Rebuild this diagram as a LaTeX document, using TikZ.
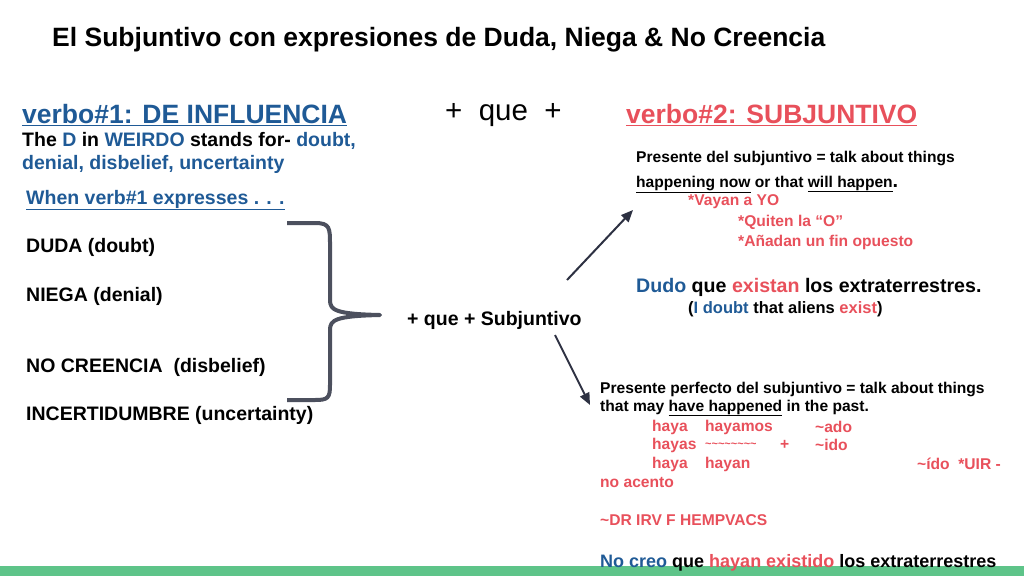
\documentclass[tikz,border=0pt]{standalone}
\usepackage{fontspec}
\setmainfont{Liberation Sans}
\usetikzlibrary{arrows.meta}
\definecolor{bl}{HTML}{1F5A96}
\definecolor{rd}{HTML}{E8505B}
\definecolor{ar}{HTML}{2D3142}
\definecolor{gr}{HTML}{5EC489}
\begin{document}
\begin{tikzpicture}[x=1pt,y=-1pt,
  t/.style={anchor=west,inner sep=0pt,font=\bfseries\fontsize{19.5}{22}\selectfont},
  s/.style={anchor=west,inner sep=0pt,font=\bfseries\fontsize{15.6}{18}\selectfont},
  big/.style={anchor=west,inner sep=0pt,font=\bfseries\fontsize{26.5}{30}\selectfont},
  arr/.style={-{Triangle[length=12pt,width=10pt]},line width=2pt,color=ar}]
\useasboundingbox (0,0) rectangle (1024,576);
\fill[gr] (0,566) rectangle (1024,576);
\node[anchor=west,inner sep=0pt,font=\bfseries\fontsize{26.5}{30}\selectfont] (title) at (52,40) {El Subjuntivo con expresiones de Duda, Niega \& No Creencia};
\node[big,text=bl] (v1) at (22,115) {\underline{verbo\#1: DE INFLUENCIA}};
\node[big,font=\fontsize{29.5}{32}\selectfont] (que) at (445,115) {+\ \ que\ \ +};
\node[big,text=rd] (v2) at (626,115) {\underline{verbo\#2: SUBJUNTIVO}};
\node[t] (w1) at (22,141) {The \textcolor{bl}{D} in \textcolor{bl}{WEIRDO} stands for- \textcolor{bl}{doubt,}};
\node[t,text=bl] (w2) at (22,164) {denial, disbelief, uncertainty};
\node[t,text=bl] (when) at (26,200) {\underline{When verb\#1 expresses . . .}};
\node[t] (duda) at (26,247) {DUDA (doubt)};
\node[t] (niega) at (26,296) {NIEGA (denial)};
\node[t] (noc) at (26,367) {NO CREENCIA\ \ (disbelief)};
\node[t] (inc) at (26,415) {INCERTIDUMBRE (uncertainty)};
\draw[line width=4pt,color=ar!85,line join=round]
  (287,223) -- (315,223) .. controls (330,223) and (330,228) .. (330,245) -- (330,300)
  .. controls (330,310) and (335,314) .. (380,315)
  .. controls (335,316) and (330,320) .. (330,330) -- (330,385)
  .. controls (330,398) and (328,400) .. (315,400) -- (287,400);
\node[t] (sub) at (407,320) {+ que + Subjuntivo};
\coordinate (a1s) at (567,280); \coordinate (a1e) at (633,210);
\coordinate (a2s) at (555,335); \coordinate (a2e) at (590,405);
\draw[arr] (a1s) -- (a1e);
\draw[arr] (a2s) -- (a2e);
\node[s] (p1) at (636,158) {Presente del subjuntivo = talk about things};
\node[s] (p2) at (636,184) {\underline{happening now} or that \underline{will happen}{\fontsize{20}{20}\selectfont.}};
\node[s,text=rd] (r1) at (688,202) {*Vayan a YO};
\node[s,text=rd] (r2) at (738,222) {*Quiten la “O”};
\node[s,text=rd] (r3) at (738,242) {*Añadan un fin opuesto};
\node[t,font=\bfseries\fontsize{19.6}{22}\selectfont] (dudo) at (636,287) {\textcolor{bl}{Dudo} que \textcolor{rd}{existan} los extraterrestres.};
\node[s,font=\bfseries\fontsize{16.5}{18}\selectfont] (idoubt) at (688,309) {(\textcolor{bl}{I doubt} that aliens \textcolor{rd}{exist})};
\node[s] (q1) at (600,389) {Presente perfecto del subjuntivo = talk about things};
\node[s] (q2) at (600,408) {that may \underline{have happened} in the past.};
\begin{scope}[every node/.style={s,text=rd}]
\node (h1) at (652,427) {haya};
\node (h2) at (705,427) {hayamos};
\node (h3) at (815,427) {\textasciitilde ado};
\node (h4) at (652,445) {hayas};
\node (h5) at (705,445) {\fontsize{11}{11}\selectfont\textasciitilde\textasciitilde\textasciitilde\textasciitilde\textasciitilde\textasciitilde\textasciitilde\textasciitilde};
\node (h6) at (780,445) {+};
\node (h7) at (815,445) {\textasciitilde ido};
\node (h8) at (652,464) {haya};
\node (h9) at (705,464) {hayan};
\node (h10) at (917,464) {\textasciitilde ído\ \ *UIR -};
\node (h11) at (600,482) {no acento};
\node (h12) at (600,520) {\textasciitilde DR IRV F HEMPVACS};
\end{scope}
\node[t,font=\bfseries\fontsize{18}{20}\selectfont] (nocreo) at (600,563) {\textcolor{bl}{No creo} que \textcolor{rd}{hayan existido} los extraterrestres};
\end{tikzpicture}
\end{document}
